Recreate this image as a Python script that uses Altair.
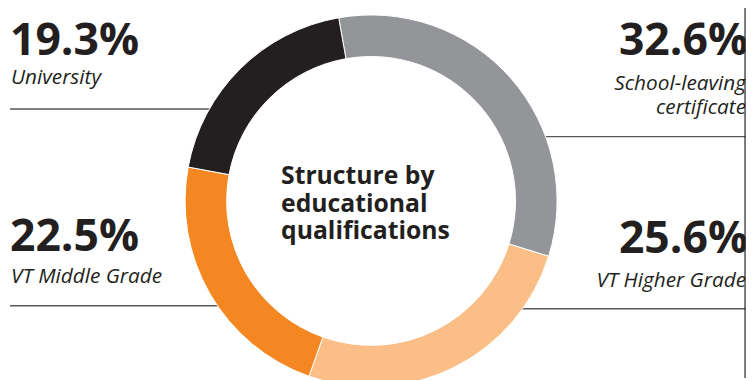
import math
import altair as alt
import pandas as pd

categories = ["School-leaving certificate", "VT Higher Grade", "VT Middle Grade", "University"]
values = [32.6, 25.6, 22.5, 19.3]
colors = ["#939598", "#fbbe87", "#f58722", "#231f20"]
pct_labels = ["32.6%", "25.6%", "22.5%", "19.3%"]

df = pd.DataFrame({"cat": categories, "value": values, "idx": list(range(len(values)))})

W, H = 748, 372
CX, CY = 367, 193
START = -0.175
INK = "#231f20"
FONT = "Open Sans"

arc = alt.Chart(df).mark_arc(
    outerRadius=188, innerRadius=146, stroke="white", strokeWidth=1
).encode(
    theta=alt.Theta("value:Q", stack=True,
                    scale=alt.Scale(range=[START, START + 2 * math.pi])),
    order=alt.Order("idx:Q"),
    color=alt.Color("cat:N", scale=alt.Scale(domain=categories, range=colors), legend=None),
    x=alt.value(CX),
    y=alt.value(CY),
)

base = alt.Chart(pd.DataFrame({"a": [0]}))

def rule(x1, x2, y):
    return base.mark_rule(color="#58595b", strokeWidth=1.5).encode(
        x=alt.value(x1), x2=alt.value(x2), y=alt.value(y))

lines = [
    rule(2, 230, 100),
    rule(2, 240, 299),
    rule(525, 748, 128),
    rule(505, 748, 302),
]

def big(txt, x, y, align):
    return base.mark_text(text=txt, font=FONT, fontWeight="bold", fontSize=45,
                          color=INK, align=align, baseline="alphabetic").encode(
        x=alt.value(x), y=alt.value(y))

def small(txt, x, y, align):
    return base.mark_text(text=txt, font=FONT, fontStyle="italic", fontSize=21,
                          color=INK, align=align,
                          baseline="alphabetic", lineHeight=24).encode(
        x=alt.value(x), y=alt.value(y))

texts = [
    big(pct_labels[3], 2, 45, "left"),
    small("University", 3, 75, "left"),
    big(pct_labels[0], 748, 46, "right"),
    small(["School-leaving", "certificate"], 746, 81, "right"),
    big(pct_labels[2], 2, 244, "left"),
    small("VT Middle Grade", 3, 276, "left"),
    big(pct_labels[1], 748, 246, "right"),
    small("VT Higher Grade", 746, 280, "right"),
    base.mark_text(text=["Structure by", "educational", "qualifications"], font=FONT,
                   fontWeight="bold", fontSize=25, lineHeight=28, color=INK,
                   align="left", baseline="alphabetic").encode(
        x=alt.value(276), y=alt.value(176)),
]

edge_mask = base.mark_rect(color="white").encode(
    x=alt.value(745.5), x2=alt.value(748), y=alt.value(-8), y2=alt.value(372))
edge_line = base.mark_rule(color=INK, strokeWidth=1.2).encode(
    x=alt.value(745), y=alt.value(-8), y2=alt.value(372))

chart = alt.layer(*lines, arc, *texts, edge_mask, edge_line).properties(
    width=W, height=H, autosize=alt.AutoSizeParams(type="none"), padding=0
).configure_view(stroke=None)

chart.save("out.html", embed_options={"renderer": "svg", "actions": False})
